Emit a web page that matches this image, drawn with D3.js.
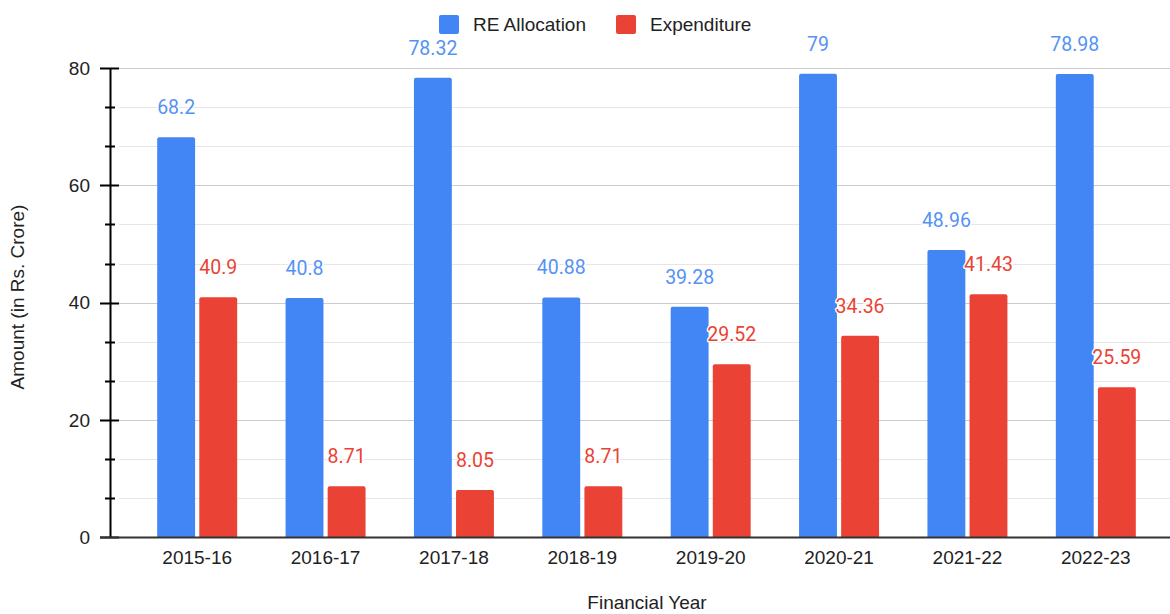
<!DOCTYPE html>
<html>
<head>
<meta charset="utf-8">
<title>RE Allocation vs Expenditure</title>
<script src="https://cdn.jsdelivr.net/npm/d3@7"></script>
<style>
  body { margin: 0; background: #fff; }
  text { font-family: "Liberation Sans", Arial, sans-serif; }
  .val { font-family: Roboto, sans-serif; paint-order: stroke; stroke: #fff; stroke-width: 3px; stroke-linejoin: round; }
</style>
</head>
<body>
<script>
var years = ['2015-16', '2016-17', '2017-18', '2018-19', '2019-20', '2020-21', '2021-22', '2022-23'];
var reAllocation = [68.2, 40.8, 78.32, 40.88, 39.28, 79, 48.96, 78.98];
var expenditure = [40.9, 8.71, 8.05, 8.71, 29.52, 34.36, 41.43, 25.59];
var seriesNames = ['RE Allocation', 'Expenditure'];
var seriesColors = ['#4285f4', '#ea4335'];
var labelColors = ['#5592f5', '#ea4335'];
var majorTicks = [0, 20, 40, 60, 80];

var width = 1170, height = 614;

var rows = years.map(function (y, i) {
    return {year: y, values: [reAllocation[i], expenditure[i]]};
});

var svg = d3.select('body').append('svg')
    .attr('width', width)
    .attr('height', height);

var x0 = d3.scaleBand()
    .domain(years)
    .range([133, 1160])
    .paddingInner(0.377)
    .paddingOuter(0.1885);

var x1 = d3.scaleBand()
    .domain(seriesNames)
    .range([0, x0.bandwidth()])
    .paddingInner(0.1);

var y = d3.scaleLinear()
    .domain([0, 80])
    .range([537.3, 68]);

// minor gridlines (two between each major)
var minorTicks = d3.range(0, 80, 20 / 3).filter(function (v) {
    return Math.abs(v / 20 - Math.round(v / 20)) > 0.01;
});

svg.append('g').selectAll('line')
    .data(minorTicks)
    .enter().append('line')
    .attr('x1', 119).attr('x2', width)
    .attr('y1', function (d) { return Math.round(y(d)) + 0.5; })
    .attr('y2', function (d) { return Math.round(y(d)) + 0.5; })
    .attr('stroke', '#e6e6e6');

svg.append('g').selectAll('line')
    .data(majorTicks.slice(1))
    .enter().append('line')
    .attr('x1', 119).attr('x2', width)
    .attr('y1', function (d) { return Math.round(y(d)) + 0.5; })
    .attr('y2', function (d) { return Math.round(y(d)) + 0.5; })
    .attr('stroke', '#cccccc');

// bars, rounded on top only
function barPath(x, w, y0, y1, r) {
    return 'M' + x + ',' + y0 +
        'V' + (y1 + r) +
        'Q' + x + ',' + y1 + ' ' + (x + r) + ',' + y1 +
        'H' + (x + w - r) +
        'Q' + (x + w) + ',' + y1 + ' ' + (x + w) + ',' + (y1 + r) +
        'V' + y0 + 'Z';
}

var groups = svg.append('g').selectAll('g')
    .data(rows)
    .enter().append('g')
    .attr('transform', function (d) { return 'translate(' + x0(d.year) + ',0)'; });

function cells(d) {
    return d.values.map(function (v, i) { return {s: seriesNames[i], v: v, i: i}; });
}

groups.selectAll('path')
    .data(cells)
    .enter().append('path')
    .attr('d', function (d) { return barPath(x1(d.s), x1.bandwidth(), y(0), y(d.v), 2); })
    .attr('fill', function (d) { return seriesColors[d.i]; });

groups.selectAll('text')
    .data(cells)
    .enter().append('text')
    .attr('class', 'val')
    .attr('x', function (d) { return x1(d.s) + x1.bandwidth() / 2; })
    .attr('y', function (d) { return y(d.v) - 23; })
    .attr('text-anchor', 'middle')
    .attr('font-size', 19.5)
    .attr('fill', function (d) { return labelColors[d.i]; })
    .text(function (d) { return d.v; });

// y axis
var yAxis = svg.append('g');
yAxis.append('line')
    .attr('x1', 110.5).attr('x2', 110.5)
    .attr('y1', y(80)).attr('y2', y(0))
    .attr('stroke', '#000').attr('stroke-width', 2);
yAxis.selectAll('.major')
    .data(majorTicks)
    .enter().append('line')
    .attr('x1', 100).attr('x2', 119)
    .attr('y1', function (d) { return Math.round(y(d)) + 0.5; })
    .attr('y2', function (d) { return Math.round(y(d)) + 0.5; })
    .attr('stroke', '#000').attr('stroke-width', 2);
yAxis.selectAll('.minor')
    .data(minorTicks)
    .enter().append('line')
    .attr('x1', 105).attr('x2', 115)
    .attr('y1', function (d) { return Math.round(y(d)) + 0.5; })
    .attr('y2', function (d) { return Math.round(y(d)) + 0.5; })
    .attr('stroke', '#000').attr('stroke-width', 2);
yAxis.selectAll('text')
    .data(majorTicks)
    .enter().append('text')
    .attr('x', 90)
    .attr('y', function (d) { return y(d); })
    .attr('dy', '0.35em')
    .attr('text-anchor', 'end')
    .attr('font-size', 19)
    .attr('fill', '#222')
    .text(function (d) { return d; });

// baseline + x labels
svg.append('line')
    .attr('x1', 100).attr('x2', width)
    .attr('y1', 537.5).attr('y2', 537.5)
    .attr('stroke', '#333').attr('stroke-width', 2);

svg.append('g').selectAll('text')
    .data(years)
    .enter().append('text')
    .attr('x', function (d) { return x0(d) + x0.bandwidth() / 2; })
    .attr('y', 564)
    .attr('text-anchor', 'middle')
    .attr('font-size', 19)
    .attr('fill', '#222')
    .text(function (d) { return d; });

svg.append('text')
    .attr('x', 647).attr('y', 609)
    .attr('text-anchor', 'middle')
    .attr('font-size', 19)
    .attr('fill', '#222')
    .text('Financial Year');

svg.append('text')
    .attr('transform', 'translate(24,297) rotate(-90)')
    .attr('text-anchor', 'middle')
    .attr('font-size', 19)
    .attr('fill', '#222')
    .text('Amount (in Rs. Crore)');

// legend
var legendX = [439, 616];
var legend = svg.append('g').selectAll('g')
    .data(seriesNames)
    .enter().append('g')
    .attr('transform', function (d, i) { return 'translate(' + legendX[i] + ',15)'; });
legend.append('rect')
    .attr('width', 20).attr('height', 19).attr('rx', 2)
    .attr('fill', function (d, i) { return seriesColors[i]; });
legend.append('text')
    .attr('x', 34).attr('y', 16)
    .attr('font-size', 19)
    .attr('fill', '#222')
    .text(function (d) { return d; });
</script>
</body>
</html>
